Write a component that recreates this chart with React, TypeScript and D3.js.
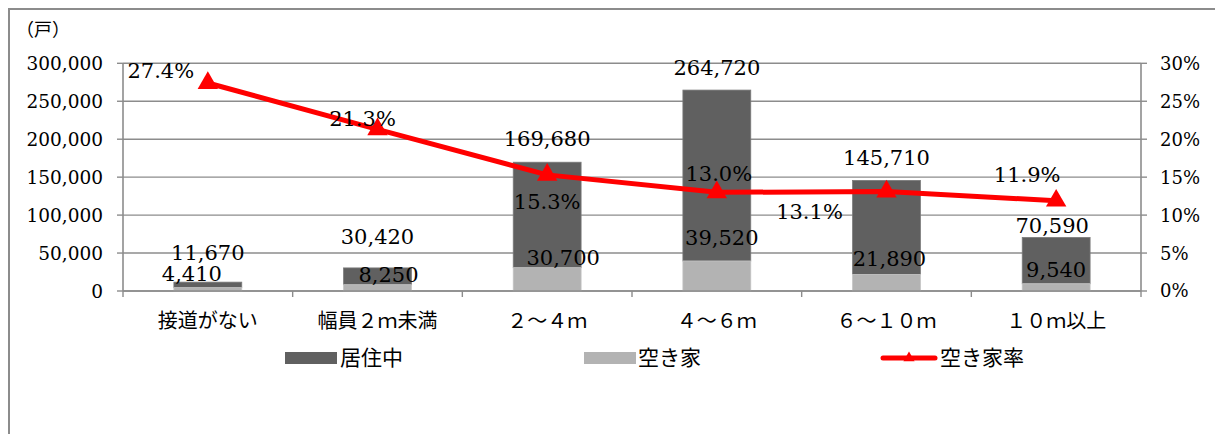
import * as d3 from 'd3';

const categories = ['接道がない', '幅員２ｍ未満', '２～４ｍ', '４～６ｍ', '６～１０ｍ', '１０ｍ以上'];
// bar totals (top of the dark 居住中 bar) and 空き家 counts
const totalHouses = [11670, 30420, 169680, 264720, 145710, 70590];
const vacantHouses = [4410, 8250, 30700, 39520, 21890, 9540];
// 空き家率 (%)
const vacancyRate = [27.4, 21.3, 15.3, 13.0, 13.1, 11.9];

const leftTicks = [0, 50000, 100000, 150000, 200000, 250000, 300000];
const rightTicks = [0, 5, 10, 15, 20, 25, 30];

// manual label nudges, as placed in the original chart [dx, dy]
const totalLabelShift = [[0, -30], [0, -31], [0, -24], [0, -23], [0, -23], [-4, -12]];
const vacantLabelShift = [[-16, -14], [11, -10], [16, -10], [5, -24], [3, -16], [0, -14]];
const rateLabelShift = [[-47, -13], [-15, -11], [0, 27], [2, -19], [-77, 20], [-29, -26]];

const W = 1215;
const H = 434;
const plot = { left: 123, right: 1141, top: 63.3, bottom: 291 };

const GRID = '#8c8c8c';
const DARK = '#606060';
const LIGHT = '#b3b3b3';
const RED = '#ff0000';
const numStyle = { fontFamily: '"DejaVu Serif", "Liberation Serif", serif' };
const jpStyle = { fontFamily: '"Noto Sans CJK JP", sans-serif' };

export default function App() {
  const x = d3.scaleBand<string>()
    .domain(categories)
    .range([plot.left, plot.right])
    .paddingInner(0)
    .paddingOuter(0);
  const bw = x.bandwidth() * 0.4;
  const cx = (i: number) => (x(categories[i]) as number) + x.bandwidth() / 2;

  const y = d3.scaleLinear().domain([0, 300000]).range([plot.bottom, plot.top]);
  const yR = d3.scaleLinear().domain([0, 30]).range([plot.bottom, plot.top]);

  const fmt = d3.format(',');

  const line = d3.line<number>()
    .x((_, i) => cx(i))
    .y(d => yR(d));

  const tri = d3.symbol(d3.symbolTriangle, 180)() as string;
  const triSmall = d3.symbol(d3.symbolTriangle, 55)() as string;

  const boundaries = d3.range(categories.length + 1).map(i =>
    plot.left + i * x.bandwidth()
  );

  return (
    <svg
      width={W}
      height={H}
      style={{ position: 'absolute', left: 0, top: 0, background: '#fff' }}
    >
      {/* outer frame */}
      <path d={`M9,${H}V9H${W}`} fill="none" stroke={GRID} strokeWidth={2} />

      <text x={43} y={30} textAnchor="middle" dy="0.35em" style={jpStyle} fontSize={18} fill="#000">
        （戸）
      </text>

      {/* gridlines + left ticks */}
      {leftTicks.map(t => (
        <g key={t}>
          <line x1={plot.left} x2={plot.right} y1={y(t)} y2={y(t)} stroke={GRID} strokeWidth={1.4} />
          <line x1={plot.left - 6} x2={plot.left} y1={y(t)} y2={y(t)} stroke={GRID} strokeWidth={1.4} />
          <text x={103} y={y(t)} dy="0.36em" textAnchor="end" style={numStyle} fontSize={18.5} fill="#000">
            {t === 0 ? '0' : fmt(t)}
          </text>
        </g>
      ))}

      {rightTicks.map(t => (
        <g key={'r' + t}>
          <line x1={plot.right} x2={plot.right + 6} y1={yR(t)} y2={yR(t)} stroke={GRID} strokeWidth={1.4} />
          <text x={1160} y={yR(t)} dy="0.36em" textAnchor="start" style={numStyle} fontSize={18} fill="#000">
            {t + '%'}
          </text>
        </g>
      ))}

      <line x1={plot.left} x2={plot.left} y1={plot.top} y2={plot.bottom} stroke={GRID} strokeWidth={1.6} />
      <line x1={plot.right} x2={plot.right} y1={plot.top} y2={plot.bottom} stroke={GRID} strokeWidth={1.6} />

      {/* bars */}
      {categories.map((c, i) => (
        <g key={c}>
          <rect
            x={cx(i) - bw / 2}
            y={y(totalHouses[i])}
            width={bw}
            height={y(vacantHouses[i]) - y(totalHouses[i])}
            fill={DARK}
            stroke="#7a7a7a"
            strokeWidth={0.8}
          />
          <rect
            x={cx(i) - bw / 2}
            y={y(vacantHouses[i])}
            width={bw}
            height={y(0) - y(vacantHouses[i])}
            fill={LIGHT}
            stroke="#c4c4c4"
            strokeWidth={0.8}
          />
        </g>
      ))}

      {/* x axis */}
      <line x1={plot.left} x2={plot.right} y1={plot.bottom} y2={plot.bottom} stroke={GRID} strokeWidth={1.6} />
      {boundaries.map((b, i) => (
        <line key={'b' + i} x1={b} x2={b} y1={plot.bottom} y2={plot.bottom + 6} stroke={GRID} strokeWidth={1.4} />
      ))}
      {categories.map((c, i) => (
        <text key={'c' + c} x={cx(i)} y={321} dy="0.35em" textAnchor="middle" style={jpStyle} fontSize={20} fill="#000">
          {c}
        </text>
      ))}

      {/* bar labels */}
      {categories.map((c, i) => (
        <g key={'l' + c} style={numStyle} fontSize={21} fill="#000" textAnchor="middle">
          <text x={cx(i) + totalLabelShift[i][0]} y={y(totalHouses[i]) + totalLabelShift[i][1]} dy="0.36em">
            {fmt(totalHouses[i])}
          </text>
          <text x={cx(i) + vacantLabelShift[i][0]} y={y(vacantHouses[i]) + vacantLabelShift[i][1]} dy="0.36em">
            {fmt(vacantHouses[i])}
          </text>
        </g>
      ))}

      {/* vacancy rate line */}
      <path d={line(vacancyRate) as string} fill="none" stroke={RED} strokeWidth={5} strokeLinejoin="round" />
      {vacancyRate.map((r, i) => (
        <path key={'m' + i} d={tri} transform={`translate(${cx(i)},${yR(r)})`} fill={RED} />
      ))}
      {vacancyRate.map((r, i) => (
        <text
          key={'rt' + i}
          x={cx(i) + rateLabelShift[i][0]}
          y={yR(r) + rateLabelShift[i][1]}
          dy="0.36em"
          textAnchor="middle"
          style={numStyle}
          fontSize={21}
          fill="#000"
        >
          {r.toFixed(1) + '%'}
        </text>
      ))}

      {/* legend */}
      <g style={jpStyle} fontSize={21} fill="#000">
        <rect x={285} y={352} width={52} height={12} fill={DARK} />
        <text x={340} y={358} dy="0.35em">居住中</text>
        <rect x={584} y={352} width={52} height={12} fill={LIGHT} />
        <text x={638} y={358} dy="0.35em">空き家</text>
        <line x1={883} x2={935} y1={358} y2={358} stroke={RED} strokeWidth={5} strokeLinecap="round" />
        <path d={triSmall} transform="translate(909,358)" fill={RED} />
        <text x={940} y={358} dy="0.35em">空き家率</text>
      </g>
    </svg>
  );
}
